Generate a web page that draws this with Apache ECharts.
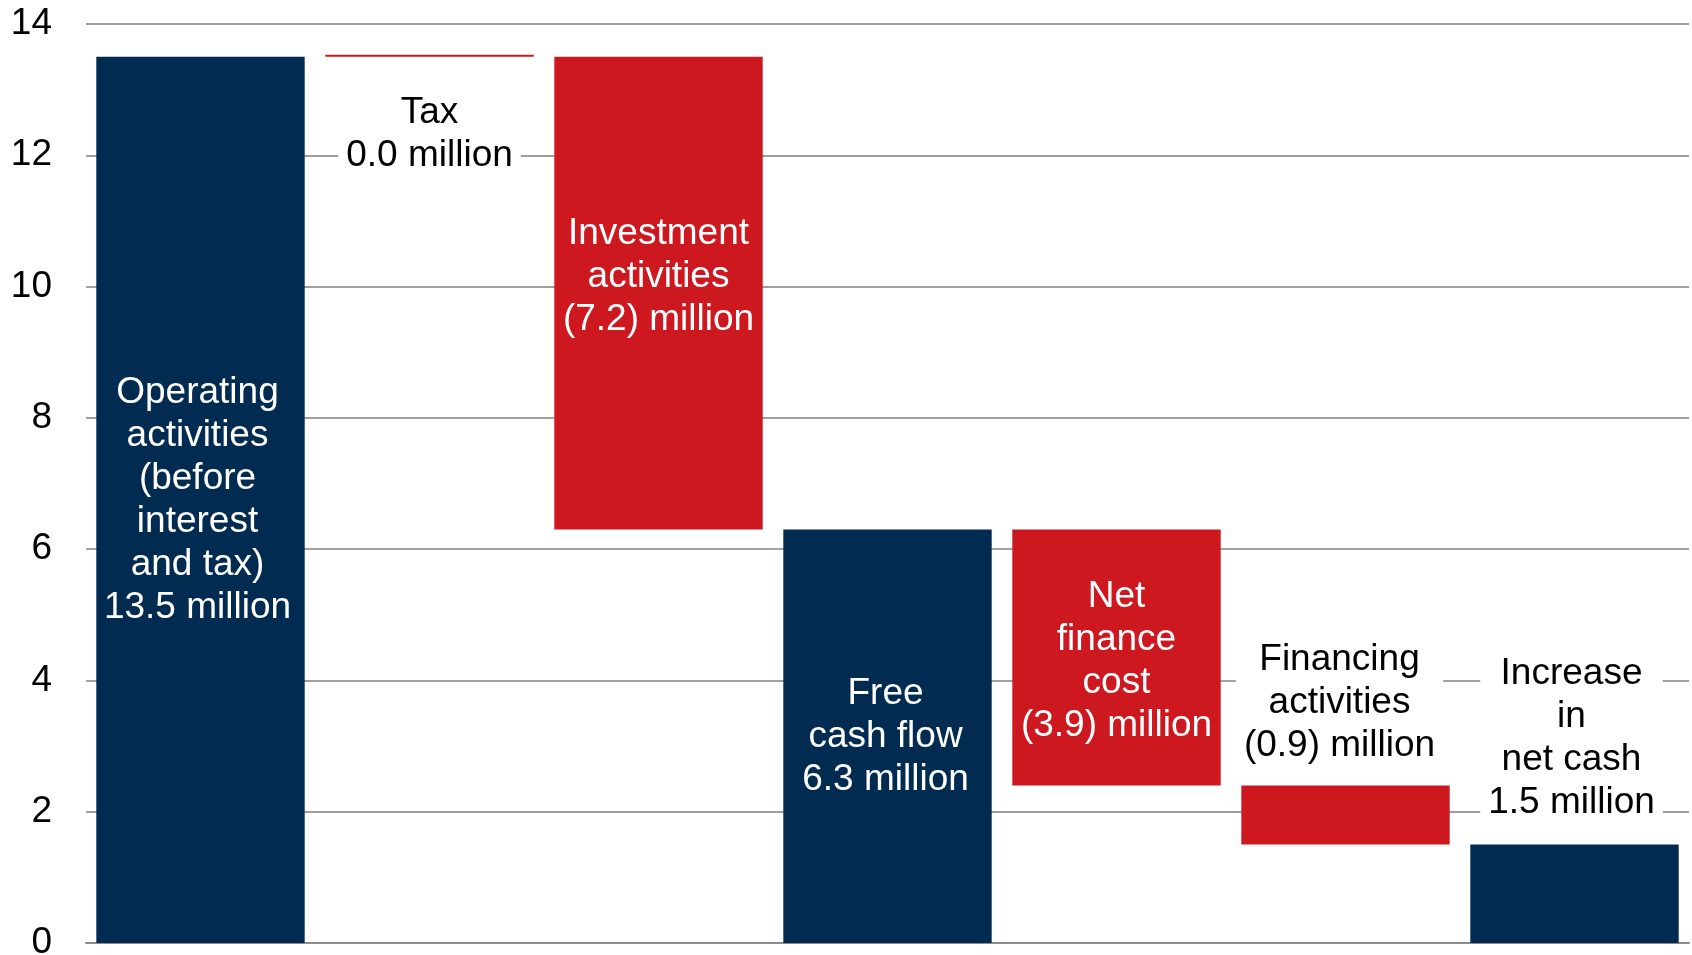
<!DOCTYPE html>
<html>
<head>
<meta charset="utf-8">
<title>Cash flow bridge</title>
<script src="https://cdn.jsdelivr.net/npm/echarts@6/dist/echarts.min.js"></script>
<style>
  html, body { margin: 0; padding: 0; background: #ffffff; }
  #chart { width: 1692px; height: 955px; }
</style>
</head>
<body>
<div id="chart"></div>
<script>
// Cash flow steps (in millions)
const categories = [
  'Operating activities (before interest and tax)',
  'Tax',
  'Investment activities',
  'Free cash flow',
  'Net finance cost',
  'Financing activities',
  'Increase in net cash'
];
const amounts = [13.5, 0.0, -7.2, 6.3, -3.9, -0.9, 1.5];
const kinds = ['total', 'change', 'change', 'total', 'change', 'change', 'total'];
const labelNames = [
  'Operating\nactivities\n(before\ninterest\nand tax)',
  'Tax',
  'Investment\nactivities',
  'Free\ncash flow',
  'Net\nfinance\ncost',
  'Financing\nactivities',
  'Increase\nin\nnet cash'
];
const yTicks = [0, 2, 4, 6, 8, 10, 12, 14];

const NAVY = '#022b51';
const RED = '#cd1820';
const FONT = '"Liberation Sans", Arial, Helvetica, sans-serif';

function fmt(v) {
  const s = Math.abs(v).toFixed(1);
  return (v < 0 ? '(' + s + ')' : s) + ' million';
}

// Waterfall: invisible base + visible step
const bases = [];
const steps = [];
let running = 0;
amounts.forEach((v, i) => {
  if (kinds[i] === 'total') {
    bases.push(0);
    steps.push(v);
    running = v;
  } else {
    bases.push(running + Math.min(0, v));
    steps.push(Math.abs(v));
    running += v;
  }
});

// Label placement for each step
const labelPlacement = [
  { position: 'inside', offset: [-3, 0] },
  { position: 'bottom', distance: 34, outside: true },
  { position: 'inside', offset: [0, -16] },
  { position: 'inside', offset: [-2, 1] },
  { position: 'inside', offset: [0, 4] },
  { position: 'top', distance: 18, offset: [-6, 0], outside: true },
  { position: 'top', distance: 20, offset: [-3, 0], outside: true }
];

const stepData = steps.map((h, i) => {
  const isTotal = kinds[i] === 'total';
  const p = labelPlacement[i];
  const label = {
    show: true,
    position: p.position,
    formatter: labelNames[i] + '\n' + fmt(amounts[i]),
    color: p.outside ? '#000000' : '#ffffff',
    fontSize: 37,
    lineHeight: 43,
    fontFamily: FONT,
    align: 'center'
  };
  if (p.distance != null) label.distance = p.distance;
  if (p.offset) label.offset = p.offset;
  if (p.outside) {
    label.backgroundColor = '#ffffff';
    label.padding = [0, 8];
  }
  return {
    value: h,
    itemStyle: { color: isTotal ? NAVY : RED },
    label: label
  };
});

const chart = echarts.init(document.getElementById('chart'), null, { renderer: 'canvas' });
chart.setOption({
  animation: false,
  backgroundColor: '#ffffff',
  grid: {
    left: 86, right: 3, top: 24, bottom: 12,
    containLabel: false,
    outerBoundsMode: 'none'
  },
  xAxis: {
    type: 'category',
    data: categories,
    axisLine: { show: true, lineStyle: { color: '#8c8c8c', width: 2 } },
    axisTick: { show: false },
    axisLabel: { show: false }
  },
  yAxis: {
    type: 'value',
    min: yTicks[0],
    max: yTicks[yTicks.length - 1],
    interval: yTicks[1] - yTicks[0],
    axisLine: { show: false },
    axisTick: { show: false },
    axisLabel: {
      color: '#000000',
      fontSize: 37,
      fontFamily: FONT,
      margin: 34
    },
    splitLine: { lineStyle: { color: '#a0a0a0', width: 2 } }
  },
  series: [
    {
      name: 'base',
      type: 'bar',
      stack: 'flow',
      data: bases,
      barCategoryGap: '9%',
      itemStyle: { color: 'transparent' },
      emphasis: { disabled: true },
      silent: true
    },
    {
      name: 'step',
      type: 'bar',
      stack: 'flow',
      data: stepData,
      barCategoryGap: '9%',
      barMinHeight: 2,
      emphasis: { disabled: true }
    }
  ]
});
</script>
</body>
</html>
